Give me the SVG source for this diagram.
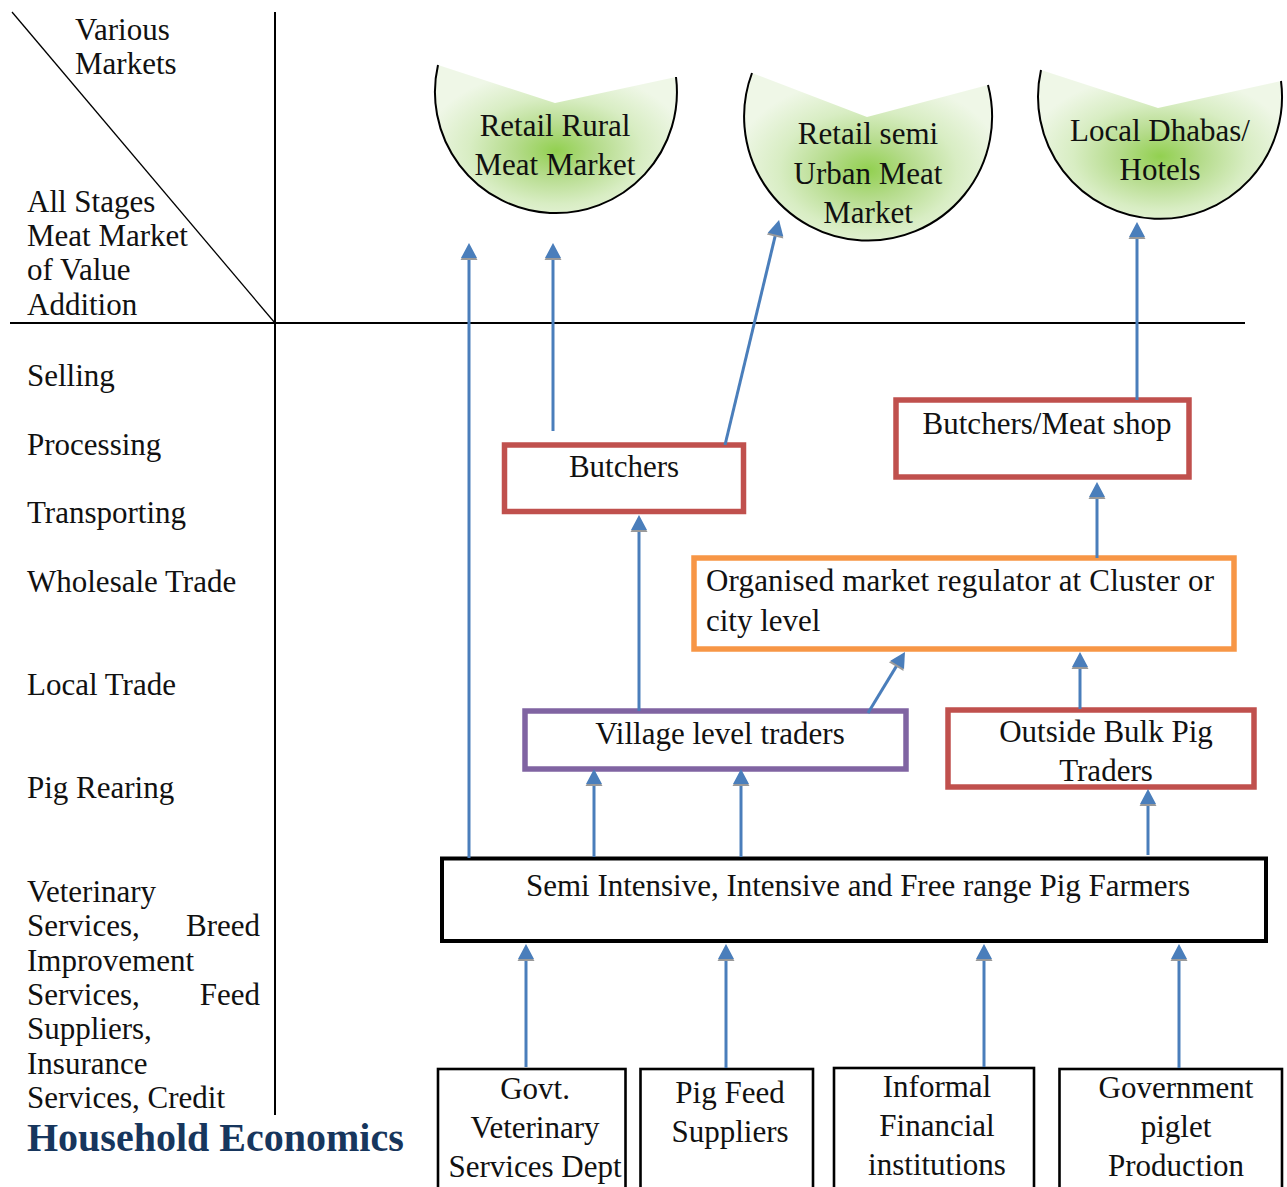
<svg xmlns="http://www.w3.org/2000/svg" width="1287" height="1187" viewBox="0 0 1287 1187">
<style>
  text { font-family: "Liberation Serif", "Times New Roman", serif; font-size: 31px; fill: #111; }
  .c { text-anchor: middle; }
  .e { text-anchor: end; }
  .title { font-weight: bold; font-size: 40px; fill: #17365D; }
  .axis { stroke: #000; stroke-width: 2; fill: none; }
  .red { fill: #fff; stroke: #C0504D; stroke-width: 5.5; }
  .orange { fill: #fff; stroke: #F79646; stroke-width: 5.5; }
  .purple { fill: #fff; stroke: #8064A2; stroke-width: 5.5; }
  .black { fill: #fff; stroke: #000; stroke-width: 4; }
  .thin { fill: #fff; stroke: #000; stroke-width: 2.6; }
  .moonfill { fill: url(#g); stroke: none; }
  .moonedge { fill: none; stroke: #000; stroke-width: 2; }
  .arr { stroke: #4A7EBB; stroke-width: 3; fill: none; marker-end: url(#ah); }
</style>
<defs>
  <radialGradient id="g" cx="0.5" cy="0.58" r="0.55">
    <stop offset="0" stop-color="#92D050"/>
    <stop offset="0.3" stop-color="#B4DB8A"/>
    <stop offset="0.65" stop-color="#D8EDC3"/>
    <stop offset="1" stop-color="#EFF7E7"/>
  </radialGradient>
  <marker id="ah" markerUnits="userSpaceOnUse" viewBox="0 0 20 20" refX="8" refY="10" markerWidth="20" markerHeight="20" orient="auto">
    <path d="M1 1.5 L16 10 L1 18.5 Z" fill="#9A9A9A"/>
    <path d="M3 2 L18 10 L3 18 Z" fill="#4A7EBB"/>
  </marker>
</defs>

<g id="axes">
  <line class="axis" x1="275" y1="12" x2="275" y2="1115"/>
  <line class="axis" x1="10" y1="323" x2="1245" y2="323"/>
  <line x1="12" y1="12" x2="275" y2="323" stroke="#000" stroke-width="1.3"/>
</g>

<g id="labels">
  <text x="75" y="40">Various</text>
  <text x="75" y="74">Markets</text>
  <text x="27" y="212">All Stages</text>
  <text x="27" y="246">Meat Market</text>
  <text x="27" y="280">of Value</text>
  <text x="27" y="315">Addition</text>
  <text x="27" y="386">Selling</text>
  <text x="27" y="455">Processing</text>
  <text x="27" y="523">Transporting</text>
  <text x="27" y="592">Wholesale Trade</text>
  <text x="27" y="695">Local Trade</text>
  <text x="27" y="798">Pig Rearing</text>
  <text x="27" y="902">Veterinary</text>
  <text x="27" y="936">Services,</text>
  <text class="e" x="260" y="936">Breed</text>
  <text x="27" y="971">Improvement</text>
  <text x="27" y="1005">Services,</text>
  <text class="e" x="260" y="1005">Feed</text>
  <text x="27" y="1039">Suppliers,</text>
  <text x="27" y="1074">Insurance</text>
  <text x="27" y="1108">Services, Credit</text>
  <text class="title" x="27" y="1151">Household Economics</text>
</g>

<g id="node-retail-rural">
  <path class="moonfill" d="M438 65 A121 121 0 1 0 676 77 L555 103 Z"/>
  <path class="moonedge" d="M438 65 A121 121 0 1 0 676 77"/>
  <text class="c" x="555" y="136">Retail Rural</text>
  <text class="c" x="555" y="175">Meat Market</text>
</g>

<g id="node-retail-semi-urban">
  <path class="moonfill" d="M752 73 A124 124 0 1 0 988 85 L867 117 Z"/>
  <path class="moonedge" d="M752 73 A124 124 0 1 0 988 85"/>
  <text class="c" x="868" y="144">Retail semi</text>
  <text class="c" x="868" y="184">Urban Meat</text>
  <text class="c" x="868" y="223">Market</text>
</g>

<g id="node-local-dhabas">
  <path class="moonfill" d="M1041 70 A122 122 0 1 0 1281 81 L1158 108 Z"/>
  <path class="moonedge" d="M1041 70 A122 122 0 1 0 1281 81"/>
  <text class="c" x="1160" y="141">Local Dhabas/</text>
  <text class="c" x="1160" y="180">Hotels</text>
</g>

<g id="node-butchers">
  <rect class="red" x="504.5" y="445" width="239" height="66.5"/>
  <text class="c" x="624" y="477">Butchers</text>
</g>

<g id="node-butchers-meat-shop">
  <rect class="red" x="896" y="400" width="293" height="77"/>
  <text class="c" x="1047" y="434">Butchers/Meat shop</text>
</g>

<g id="node-organised-regulator">
  <rect class="orange" x="694" y="558" width="540" height="91"/>
  <text x="706" y="591" textLength="508" lengthAdjust="spacing">Organised market regulator at Cluster or</text>
  <text x="706" y="631">city level</text>
</g>

<g id="node-village-traders">
  <rect class="purple" x="525" y="711" width="381" height="58"/>
  <text class="c" x="720" y="744">Village level traders</text>
</g>

<g id="node-outside-bulk">
  <rect class="red" x="948" y="710" width="306" height="77"/>
  <text class="c" x="1106" y="742">Outside Bulk Pig</text>
  <text class="c" x="1106" y="781">Traders</text>
</g>

<g id="node-pig-farmers">
  <rect class="black" x="442" y="858.5" width="824" height="82.5"/>
  <text class="c" x="858" y="896" textLength="664" lengthAdjust="spacing">Semi Intensive, Intensive and Free range Pig Farmers</text>
</g>

<g id="node-govt-vet">
  <rect class="thin" x="438" y="1069" width="187.5" height="130"/>
  <text class="c" x="535" y="1099">Govt.</text>
  <text class="c" x="535" y="1138">Veterinary</text>
  <text class="c" x="535" y="1177">Services Dept</text>
</g>

<g id="node-pig-feed">
  <rect class="thin" x="640.5" y="1069" width="172.5" height="130"/>
  <text class="c" x="730" y="1103">Pig Feed</text>
  <text class="c" x="730" y="1142">Suppliers</text>
</g>

<g id="node-informal-finance">
  <rect class="thin" x="834" y="1068" width="200" height="130"/>
  <text class="c" x="937" y="1097">Informal</text>
  <text class="c" x="937" y="1136">Financial</text>
  <text class="c" x="937" y="1175">institutions</text>
</g>

<g id="node-govt-piglet">
  <rect class="thin" x="1059.5" y="1069" width="222.5" height="130"/>
  <text class="c" x="1176" y="1098">Government</text>
  <text class="c" x="1176" y="1137">piglet</text>
  <text class="c" x="1176" y="1176">Production</text>
</g>

<g id="connectors">
  <line class="arr" x1="469" y1="858" x2="469" y2="253"/>
  <line class="arr" x1="553" y1="431" x2="553" y2="253"/>
  <line class="arr" x1="725" y1="445" x2="776.7" y2="229.7"/>
  <line class="arr" x1="1137" y1="400" x2="1137" y2="232"/>
  <line class="arr" x1="639" y1="711" x2="639" y2="525"/>
  <line class="arr" x1="1097" y1="558" x2="1097" y2="492"/>
  <line class="arr" x1="868" y1="713" x2="899.8" y2="660.6"/>
  <line class="arr" x1="1080" y1="709" x2="1080" y2="662"/>
  <line class="arr" x1="594" y1="857" x2="594" y2="779"/>
  <line class="arr" x1="741" y1="857" x2="741" y2="779"/>
  <line class="arr" x1="1148" y1="855" x2="1148" y2="799"/>
  <line class="arr" x1="526" y1="1067" x2="526" y2="954"/>
  <line class="arr" x1="726" y1="1068" x2="726" y2="954"/>
  <line class="arr" x1="984" y1="1067" x2="984" y2="954"/>
  <line class="arr" x1="1179" y1="1068" x2="1179" y2="954"/>
</g>
</svg>
